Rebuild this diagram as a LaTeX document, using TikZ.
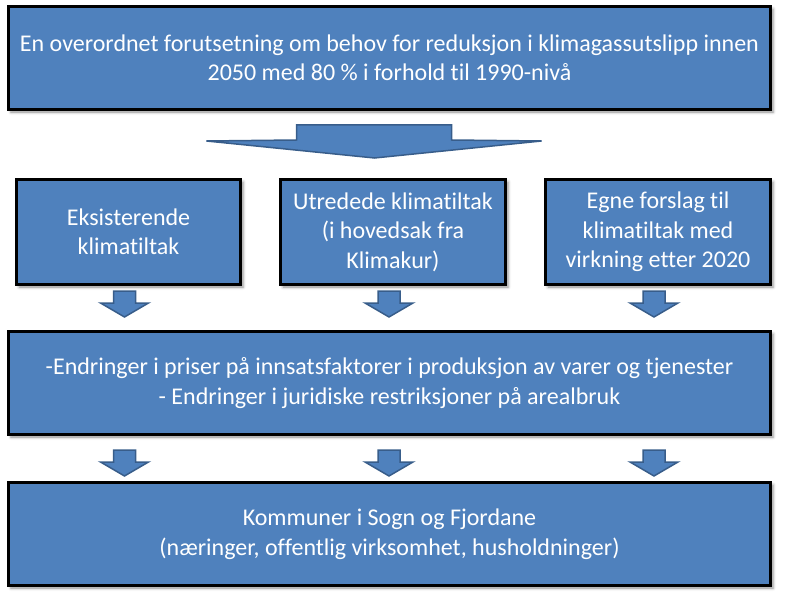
\documentclass[tikz,border=0pt]{standalone}
\usepackage{fontspec}
\setmainfont[Ligatures=NoCommon]{Carlito}
\usetikzlibrary{calc,shadows.blur}
\definecolor{boksblaa}{HTML}{4F81BD}
\definecolor{pilkant}{HTML}{385D8A}
\tikzset{
  boks/.style={draw=black, line width=3pt, fill=boksblaa, text=white,
    align=center, inner sep=0pt, font=\fontsize{24}{29.5}\selectfont,
    blur shadow={shadow xshift=2.5pt, shadow yshift=-2.5pt,
      shadow blur radius=3pt, shadow opacity=45}},
  pil/.style={draw=pilkant, line width=1.5pt, fill=boksblaa, line join=miter}
}
\newcommand{\smaapil}{(-11,0) -- (11,0) -- (11,12) -- (24,12) -- (0,26)
  -- (-24,12) -- (-11,12) -- cycle}
\begin{document}
\begin{tikzpicture}[x=1pt, y=-1pt]
  \useasboundingbox (0,0) rectangle (788,599);
  % Bokser
  \node[boks, minimum width=762pt, minimum height=103pt] (forutsetning) at (389.5,58)
    {En overordnet forutsetning om behov for reduksjon i klimagassutslipp innen\\
     2050 med 80 \% i forhold til 1990-nivå};
  \node[boks, minimum width=224pt, minimum height=105pt] (eksisterende) at (128.5,232)
    {Eksisterende\\klimatiltak};
  \node[boks, minimum width=225pt, minimum height=105pt] (utredede) at (393,232)
    {Utredede klimatiltak\\(i hovedsak fra\\Klimakur)};
  \node[boks, minimum width=225pt, minimum height=105pt] (egne) at (658,232)
    {Egne forslag til\\klimatiltak med\\virkning etter 2020};
  \node[boks, minimum width=762pt, minimum height=103pt] (endringer) at (389.5,383)
    {-Endringer i priser på innsatsfaktorer i produksjon av varer og tjenester\\
     - Endringer i juridiske restriksjoner på arealbruk};
  \node[boks, minimum width=762pt, minimum height=103pt] (kommuner) at (389.5,534)
    {Kommuner i Sogn og Fjordane\\
     (næringer, offentlig virksomhet, husholdninger)};
  % Stor pil
  \draw[pil, shift={($(forutsetning.south)+(-15,14)$)}]
    (-78,0) -- (77,0) -- (77,15) -- (167,16) -- (0,33) -- (-168,16) -- (-78,15) -- cycle;
  % Smaa piler
  \foreach \n in {eksisterende,utredede,egne} {
    \draw[pil, shift={($(\n.south)+(-4,5)$)}] \smaapil;
    \draw[pil, shift={($(\n.south |- endringer.south)+(-4,14)$)}] \smaapil;
  }
\end{tikzpicture}
\end{document}
